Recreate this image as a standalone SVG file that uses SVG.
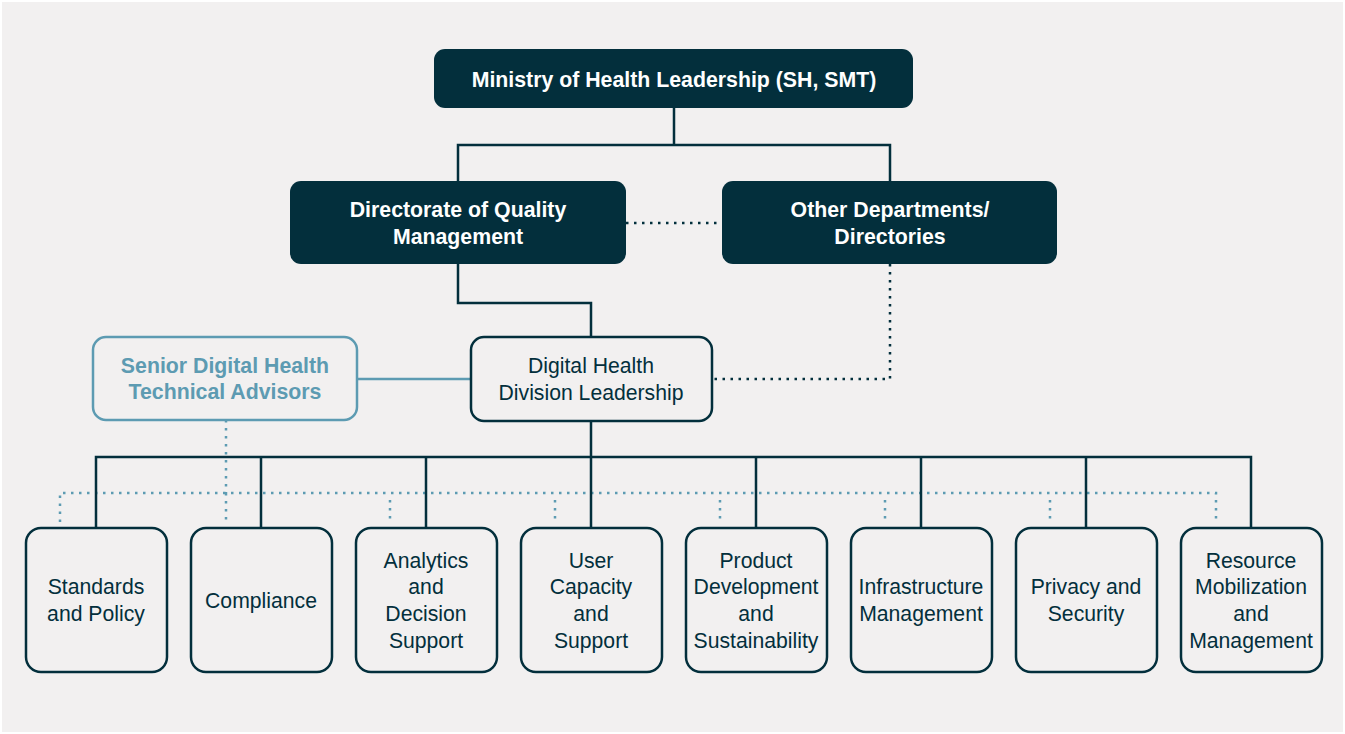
<svg xmlns="http://www.w3.org/2000/svg" width="1345" height="734" viewBox="0 0 1345 734">
<style>
.dark{fill:#032f3c}
.lbox{fill:#f2f0f0;stroke:#032f3c;stroke-width:2.5}
.abox{fill:#f2f0f0;stroke:#5d9bb2;stroke-width:2.5}
.tw{font-family:"Liberation Sans",Arial,sans-serif;font-weight:bold;font-size:21.3px;fill:#ffffff;text-anchor:middle}
.td{font-family:"Liberation Sans",Arial,sans-serif;font-size:21.2px;fill:#032f3c;text-anchor:middle}
.tb{font-family:"Liberation Sans",Arial,sans-serif;font-weight:bold;font-size:21.3px;fill:#5d9bb2;text-anchor:middle}
.solid{fill:none;stroke:#032f3c;stroke-width:2.5}
.dot{fill:none;stroke:#032f3c;stroke-width:2.5;stroke-dasharray:2.5 5.5}
.bsolid{fill:none;stroke:#5d9bb2;stroke-width:2.5}
.bdot{fill:none;stroke:#5d9bb2;stroke-width:2.5;stroke-dasharray:2.5 5.5}
</style>
<rect x="0" y="0" width="1345" height="734" fill="#ffffff"/>
<rect x="2" y="2" width="1341" height="730" fill="#f2f0f0"/>
<g id="connectors">
<path class="solid" d="M674 108V145M458 181V145H890V181"/>
<path class="dot" d="M626 223H722"/>
<path class="solid" d="M458 264V303H591V337"/>
<path class="dot" d="M890 264V379H712"/>
<path class="bsolid" d="M357 379H471"/>
<path class="bdot" d="M226 420V493"/>
<path class="bdot" d="M60 522V493H1216V522"/>
<path class="bdot" d="M390 500V522M555 500V522M720 500V522M885 500V522M1050 500V522M226 493V522"/>
<path class="solid" d="M591 421V457M96 528V457H1251V528"/>
<path class="solid" d="M261 457V528M426 457V528M591 457V528M756 457V528M921 457V528M1086 457V528"/>
</g>
<g id="ministry">
<rect class="dark" x="434" y="49" width="479" height="59" rx="11"/>
<text class="tw" x="674" y="87">Ministry of Health Leadership (SH, SMT)</text>
</g>
<g id="directorate">
<rect class="dark" x="290" y="181" width="336" height="83" rx="11"/>
<text class="tw" x="458" y="217">Directorate of Quality</text>
<text class="tw" x="458" y="244">Management</text>
</g>
<g id="other">
<rect class="dark" x="722" y="181" width="335" height="83" rx="11"/>
<text class="tw" x="890" y="217">Other Departments/</text>
<text class="tw" x="890" y="244">Directories</text>
</g>
<g id="digital">
<rect class="lbox" x="471" y="337" width="241" height="84" rx="13"/>
<text class="td" x="591" y="373">Digital Health</text>
<text class="td" x="591" y="400">Division Leadership</text>
</g>
<g id="advisors">
<rect class="abox" x="93" y="337" width="264" height="83" rx="13"/>
<text class="tb" x="225" y="373">Senior Digital Health</text>
<text class="tb" x="225" y="399">Technical Advisors</text>
</g>
<g id="standards">
<rect class="lbox" x="26" y="528" width="141" height="144" rx="15"/>
<text class="td" x="96" y="594">Standards</text>
<text class="td" x="96" y="621">and Policy</text>
</g>
<g id="compliance">
<rect class="lbox" x="191" y="528" width="141" height="144" rx="15"/>
<text class="td" x="261" y="608">Compliance</text>
</g>
<g id="analytics">
<rect class="lbox" x="356" y="528" width="141" height="144" rx="15"/>
<text class="td" x="426" y="568">Analytics</text>
<text class="td" x="426" y="594">and</text>
<text class="td" x="426" y="621">Decision</text>
<text class="td" x="426" y="648">Support</text>
</g>
<g id="usercapacity">
<rect class="lbox" x="521" y="528" width="141" height="144" rx="15"/>
<text class="td" x="591" y="568">User</text>
<text class="td" x="591" y="594">Capacity</text>
<text class="td" x="591" y="621">and</text>
<text class="td" x="591" y="648">Support</text>
</g>
<g id="product">
<rect class="lbox" x="686" y="528" width="141" height="144" rx="15"/>
<text class="td" x="756" y="568">Product</text>
<text class="td" x="756" y="594">Development</text>
<text class="td" x="756" y="621">and</text>
<text class="td" x="756" y="648">Sustainability</text>
</g>
<g id="infrastructure">
<rect class="lbox" x="851" y="528" width="141" height="144" rx="15"/>
<text class="td" x="921" y="594">Infrastructure</text>
<text class="td" x="921" y="621">Management</text>
</g>
<g id="privacy">
<rect class="lbox" x="1016" y="528" width="141" height="144" rx="15"/>
<text class="td" x="1086" y="594">Privacy and</text>
<text class="td" x="1086" y="621">Security</text>
</g>
<g id="resource">
<rect class="lbox" x="1181" y="528" width="141" height="144" rx="15"/>
<text class="td" x="1251" y="568">Resource</text>
<text class="td" x="1251" y="594">Mobilization</text>
<text class="td" x="1251" y="621">and</text>
<text class="td" x="1251" y="648">Management</text>
</g>
</svg>
